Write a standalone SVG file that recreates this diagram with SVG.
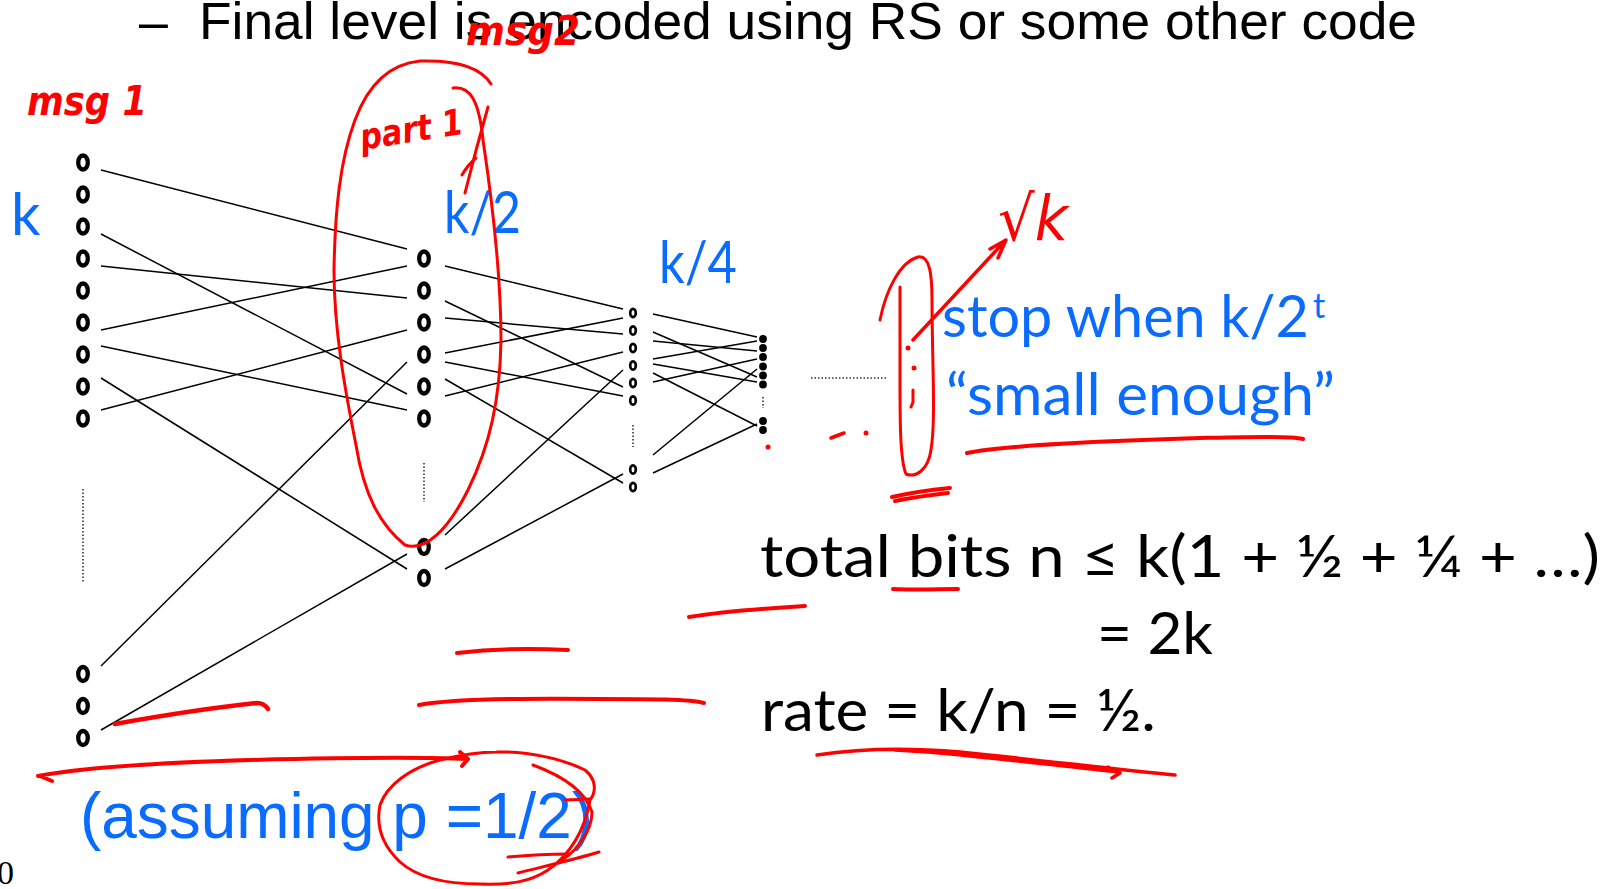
<svg xmlns="http://www.w3.org/2000/svg" width="1610" height="889" viewBox="0 0 1610 889">
<style>
.bg{fill:#fff}
.o{fill:none;stroke:#000;stroke-width:4.3}
.o3{fill:none;stroke:#000;stroke-width:2.6}
.d{fill:#000}
.e{stroke:#000;stroke-width:1.5;fill:none}
.dot{stroke:#333;stroke-width:1.6;stroke-dasharray:1.5 2;fill:none}
.blue{fill:#0a6cff;font-family:Lato,"Open Sans","DejaVu Sans",sans-serif}
.arial{font-family:"Liberation Sans",Arial,sans-serif}
.gill{fill:#000;font-family:Lato,"Open Sans","DejaVu Sans",sans-serif}
.ink{fill:none;stroke:#ff0000;stroke-linecap:round;stroke-linejoin:round}
.hand{fill:#ff0000;font-family:"DejaVu Sans","Liberation Sans",sans-serif;font-weight:bold;font-style:italic}
</style>
<rect class="bg" x="0" y="0" width="1610" height="889"/>

<g id="title">
<text class="arial" x="139" y="39" font-size="52" fill="#000">–</text>
<text class="arial" x="199" y="39" font-size="52" fill="#000" textLength="1218" lengthAdjust="spacingAndGlyphs">Final level is encoded using RS or some other code</text>
</g>

<g id="connectors">
<line class="e" x1="101" y1="170" x2="407" y2="249"/>
<line class="e" x1="101" y1="234" x2="407" y2="394"/>
<line class="e" x1="101" y1="266" x2="407" y2="298"/>
<line class="e" x1="101" y1="330" x2="407" y2="266"/>
<line class="e" x1="101" y1="346" x2="407" y2="410"/>
<line class="e" x1="101" y1="378" x2="407" y2="569"/>
<line class="e" x1="101" y1="410" x2="407" y2="330"/>
<line class="e" x1="101" y1="666" x2="407" y2="362"/>
<line class="e" x1="101" y1="730" x2="407" y2="554"/>
<line class="e" x1="445" y1="266" x2="623" y2="309"/>
<line class="e" x1="445" y1="301" x2="623" y2="387"/>
<line class="e" x1="445" y1="318" x2="623" y2="334"/>
<line class="e" x1="445" y1="353" x2="623" y2="318"/>
<line class="e" x1="445" y1="362" x2="623" y2="396"/>
<line class="e" x1="445" y1="379" x2="623" y2="483"/>
<line class="e" x1="445" y1="396" x2="623" y2="352"/>
<line class="e" x1="445" y1="535" x2="623" y2="370"/>
<line class="e" x1="445" y1="569" x2="623" y2="474"/>
<line class="e" x1="653" y1="314" x2="757" y2="337"/>
<line class="e" x1="653" y1="332" x2="757" y2="377"/>
<line class="e" x1="653" y1="341" x2="757" y2="351"/>
<line class="e" x1="653" y1="359" x2="757" y2="341"/>
<line class="e" x1="653" y1="364" x2="757" y2="382"/>
<line class="e" x1="653" y1="373" x2="757" y2="426"/>
<line class="e" x1="653" y1="382" x2="757" y2="359"/>
<line class="e" x1="653" y1="455" x2="757" y2="369"/>
<line class="e" x1="653" y1="473" x2="757" y2="424"/>
<line class="dot" x1="83" y1="489" x2="83" y2="583"/>
<line class="dot" x1="424" y1="463" x2="424" y2="502"/>
<line class="dot" x1="633" y1="425" x2="633" y2="447" stroke-width="2"/>
<line class="dot" x1="763" y1="397" x2="763" y2="408" stroke-width="2"/>
<line class="dot" x1="811" y1="378" x2="888" y2="378"/>
</g>

<g id="layer-k">
<text class="blue" x="11" y="235" font-size="58">k</text>
<ellipse class="o" cx="83" cy="162.5" rx="4.8" ry="7"/>
<ellipse class="o" cx="83" cy="194.5" rx="4.8" ry="7"/>
<ellipse class="o" cx="83" cy="226.5" rx="4.8" ry="7"/>
<ellipse class="o" cx="83" cy="258.5" rx="4.8" ry="7"/>
<ellipse class="o" cx="83" cy="290.5" rx="4.8" ry="7"/>
<ellipse class="o" cx="83" cy="322.5" rx="4.8" ry="7"/>
<ellipse class="o" cx="83" cy="354.5" rx="4.8" ry="7"/>
<ellipse class="o" cx="83" cy="386.5" rx="4.8" ry="7"/>
<ellipse class="o" cx="83" cy="418.5" rx="4.8" ry="7"/>
<ellipse class="o" cx="83" cy="674" rx="4.8" ry="7"/>
<ellipse class="o" cx="83" cy="706" rx="4.8" ry="7"/>
<ellipse class="o" cx="83" cy="738" rx="4.8" ry="7"/>
</g>

<g id="layer-k2">
<text class="blue" x="444" y="233" font-size="58" textLength="77" lengthAdjust="spacingAndGlyphs">k/2</text>
<ellipse class="o" cx="424" cy="258.5" rx="4.8" ry="7"/>
<ellipse class="o" cx="424" cy="290.5" rx="4.8" ry="7"/>
<ellipse class="o" cx="424" cy="322.5" rx="4.8" ry="7"/>
<ellipse class="o" cx="424" cy="354.5" rx="4.8" ry="7"/>
<ellipse class="o" cx="424" cy="386.5" rx="4.8" ry="7"/>
<ellipse class="o" cx="424" cy="418.5" rx="4.8" ry="7"/>
<ellipse class="o" cx="424" cy="547" rx="4.8" ry="7"/>
<ellipse class="o" cx="424" cy="578" rx="4.8" ry="7"/>
</g>

<g id="layer-k4">
<text class="blue" x="659" y="283" font-size="58" textLength="78" lengthAdjust="spacingAndGlyphs">k/4</text>
<ellipse class="o3" cx="633" cy="313" rx="2.8" ry="4.1"/>
<ellipse class="o3" cx="633" cy="330.5" rx="2.8" ry="4.1"/>
<ellipse class="o3" cx="633" cy="348" rx="2.8" ry="4.1"/>
<ellipse class="o3" cx="633" cy="365.5" rx="2.8" ry="4.1"/>
<ellipse class="o3" cx="633" cy="383" rx="2.8" ry="4.1"/>
<ellipse class="o3" cx="633" cy="400.5" rx="2.8" ry="4.1"/>
<ellipse class="o3" cx="633" cy="469.5" rx="2.8" ry="4.1"/>
<ellipse class="o3" cx="633" cy="487" rx="2.8" ry="4.1"/>
</g>

<g id="layer-k8">
<circle class="d" cx="763" cy="339" r="3.9"/>
<circle class="d" cx="763" cy="348" r="3.9"/>
<circle class="d" cx="763" cy="357" r="3.9"/>
<circle class="d" cx="763" cy="366.5" r="3.9"/>
<circle class="d" cx="763" cy="375.5" r="3.9"/>
<circle class="d" cx="763" cy="384.5" r="3.9"/>
<circle class="d" cx="763" cy="421" r="3.9"/>
<circle class="d" cx="763" cy="430" r="3.9"/>
</g>

<g id="stop-text">
<text class="blue" x="942" y="337" font-size="58" textLength="367" lengthAdjust="spacingAndGlyphs">stop when k/2</text>
<text class="blue" x="1313" y="318" font-size="34">t</text>
<text class="blue" x="946" y="415" font-size="58" textLength="389" lengthAdjust="spacingAndGlyphs">“small enough”</text>
</g>

<g id="formula">
<text class="gill" x="760" y="577" font-size="58" textLength="840" lengthAdjust="spacingAndGlyphs">total bits n ≤ k(1 + ½ + ¼ + …)</text>
<text class="gill" x="1097" y="654" font-size="58" textLength="116" lengthAdjust="spacingAndGlyphs">= 2k</text>
<text class="gill" x="761" y="731" font-size="58" textLength="395" lengthAdjust="spacingAndGlyphs">rate = k/n = ½.</text>
</g>

<g id="assumption">
<text class="arial" x="80" y="838" font-size="64" fill="#0a6cff" textLength="513" lengthAdjust="spacingAndGlyphs">(assuming p =1/2)</text>
</g>

<g id="slide-number">
<text x="-3" y="884" font-size="34" font-family="'Liberation Serif','Times New Roman',serif" fill="#000">0</text>
</g>

<g id="annotations">
<text class="hand" x="27" y="115" font-size="40" textLength="120" lengthAdjust="spacingAndGlyphs">msg 1</text>
<text class="hand" x="466" y="45" font-size="40" textLength="114" lengthAdjust="spacingAndGlyphs">msg2</text>
<text class="hand" x="362" y="150" font-size="36" textLength="104" lengthAdjust="spacingAndGlyphs" transform="rotate(-9 362 150)">part 1</text>
<text x="998" y="240" font-size="62" fill="#ff0000" font-family="'DejaVu Sans',sans-serif" font-style="italic" textLength="70" lengthAdjust="spacingAndGlyphs">√k</text>
<path class="ink" stroke-width="3" d="M 491,84 C 480,66 452,60 420,61 C 390,64 368,85 355,120 C 340,160 335,210 334,270 C 334,330 345,390 356,445 C 364,495 380,525 405,545 C 425,552 448,530 468,490 C 490,445 500,400 501,340 C 501,280 492,200 483,140 C 479,100 470,86 453,88"/>
<path class="ink" stroke-width="3" d="M 488,107 C 480,135 472,165 465,193 M 476,158 C 470,163 466,168 462,175"/>
<path class="ink" stroke-width="3" d="M 880,320 C 886,290 900,262 918,257 C 930,255 932,275 932,300 C 932,360 936,420 931,450 C 928,470 916,478 906,474 C 900,460 900,420 900,380 C 900,340 900,310 900,287"/>
<path class="ink" stroke-width="3.5" d="M 913,340 L 1005,241 M 990,249 L 1006,240 L 998,258"/>
<circle cx="908" cy="348" r="2.5" fill="#ff0000"/>
<circle cx="914" cy="368" r="2.5" fill="#ff0000"/>
<path class="ink" stroke-width="3" d="M 913,390 L 913,402 L 911,407"/>
<path class="ink" stroke-width="4" d="M 892,497 C 905,494 930,490 950,488 M 895,501 C 915,497 930,495 948,493"/>
<path class="ink" stroke-width="3.5" d="M 831,438 L 844,433"/>
<circle cx="866" cy="433" r="2.5" fill="#ff0000"/>
<circle cx="768" cy="447" r="2.5" fill="#ff0000"/>
<path class="ink" stroke-width="4" d="M 967,453 C 1000,446 1100,441 1200,438 C 1250,437 1290,436 1303,439"/>
<path class="ink" stroke-width="4" d="M 893,589 C 915,590 940,589 958,589"/>
<path class="ink" stroke-width="4" d="M 689,617 C 720,612 770,608 805,606"/>
<path class="ink" stroke-width="4" d="M 457,653 C 490,649 530,648 568,650"/>
<path class="ink" stroke-width="4" d="M 419,705 C 450,699 520,698 600,699 C 650,699 690,699 704,703"/>
<path class="ink" stroke-width="4.5" d="M 115,724 C 160,716 210,708 257,703 C 263,703 266,706 268,709"/>
<path class="ink" stroke-width="3.5" d="M 817,755 C 850,750 900,747 960,752 C 1040,760 1120,770 1175,775 M 895,750 C 950,752 1050,765 1118,772 M 1108,767 L 1120,773 L 1112,778"/>
<path class="ink" stroke-width="4" d="M 38,776 C 80,768 150,763 250,760 C 330,758 420,757 468,759 M 460,752 L 468,759 L 462,766 M 40,776 L 52,781"/>
<path class="ink" stroke-width="3" d="M 497,752 C 530,751 565,760 585,770 C 597,780 596,792 590,800 C 585,830 570,855 548,870 C 530,882 510,885 480,884 C 450,884 420,880 400,862 C 382,845 376,825 380,805 C 387,785 410,768 440,760 C 460,755 480,752 497,752"/>
<path class="ink" stroke-width="3" d="M 533,765 C 560,775 585,790 592,812 C 592,830 578,850 562,860 M 508,857 C 530,855 550,854 568,854 M 518,873 C 550,865 580,858 599,852 M 565,800 L 590,799"/>
</g>
</svg>
